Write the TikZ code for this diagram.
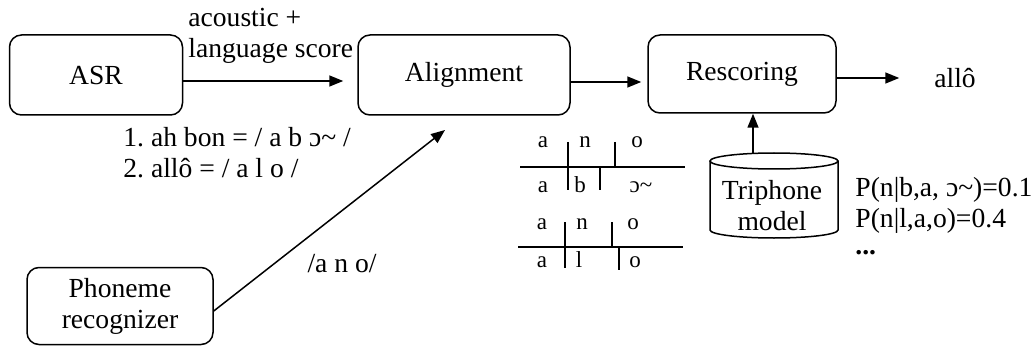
\documentclass[tikz,border=0pt]{standalone}
\usepackage{fontspec}
\setmainfont{Liberation Serif}
\usetikzlibrary{arrows.meta}
\frenchspacing

\begin{document}
\begin{tikzpicture}[x=0.5pt,y=-0.5pt,
  font=\fontsize{13.8}{15.5}\selectfont,
  box/.style={draw, line width=0.75pt, rounded corners=6pt, align=center},
  arr/.style={line width=0.75pt, -{Triangle[length=7pt,width=5.5pt]}},
  small/.style={font=\fontsize{11.5}{13}\selectfont, inner sep=0pt, anchor=base},
  rule/.style={line width=0.7pt}]

% Frame
\useasboundingbox (0,0) rectangle (1036,347);

% Boxes
\node[box, minimum width=86.5pt, minimum height=40pt] (asr) at (96,75) {ASR};
\node[box, minimum width=106pt, minimum height=40pt] (align) at (464,75) {Alignment};
\node[box, minimum width=94pt, minimum height=39pt] (resc) at (742,74) {Rescoring};
\node[box, minimum width=93pt, minimum height=38.5pt] (phon) at (120,306) {Phoneme\\recognizer};
\node (out) at (955,78) {allô};

% Triphone database
\draw[line width=0.75pt] (710,161) -- (710,230) arc (180:0:64 and 8) -- (838,161);
\draw[line width=0.75pt] (774,161) ellipse (64 and 8);
\node[align=center, inner sep=0pt] (trip) at (772,206) {Triphone\\model};
\coordinate (cyltop) at (753,153.4);
\coordinate (alnin) at (445,130);

% Connectors
\draw[arr, shorten >=7pt] ([yshift=-3pt]asr.east) -- ([yshift=-3pt]align.west);
\draw[arr, shorten >=3pt] ([yshift=-3.5pt]align.east) -- ([yshift=-3.5pt]align.east -| resc.west);
\draw[arr, shorten >=14pt] ([yshift=-2pt]resc.east) -- ([yshift=-2pt]resc.east -| out.west);
\draw[arr] (cyltop) -- (resc.south -| cyltop);
\draw[arr] ([yshift=-2.5pt]phon.east) -- (alnin);

% Labels
\node[align=left, anchor=west, inner sep=0pt] (score) at (188,36) {acoustic +\\language score};
\node[align=left, anchor=west, inner sep=0pt] (hyps) at (123,153) {1. ah bon = / a b ɔ\textasciitilde{} /\\2. allô = / a l o /};
\node (seq) at (342,264) {/a n o/};
\node[align=left, anchor=west, inner sep=0pt] (probs) at (855,205) {P(n|b,a, ɔ\textasciitilde{})=0.1\\P(n|l,a,o)=0.4};
\node[anchor=west, inner sep=0pt] (dots) at (855,253) {\textbf{...}};

% Alignment tables
\foreach \ch/\x/\y/\nm in {a/543/148/ta1, n/585/148/tn1, o/637/148/to1,
                          a/543/192/ba1, b/580/192/bb1, ɔ\textasciitilde/641/192/bo1,
                          a/542/229/ta2, n/582/229/tn2, o/633/229/to2,
                          a/542/267/ba2, l/579/267/bl2, o/635/267/bo2}
  \node[small] (\nm) at (\x,\y) {\ch};

\draw[rule] (520,167) -- (685,167);
\draw[rule] (568,142) -- (568,190);
\draw[rule] (615,142) -- (615,167);
\draw[rule] (600,167) -- (600,190);

\draw[rule] (518,247) -- (683,247);
\draw[rule] (565,222) -- (565,268);
\draw[rule] (612,222) -- (612,247);
\draw[rule] (619,247) -- (619,270);

\end{tikzpicture}
\end{document}
